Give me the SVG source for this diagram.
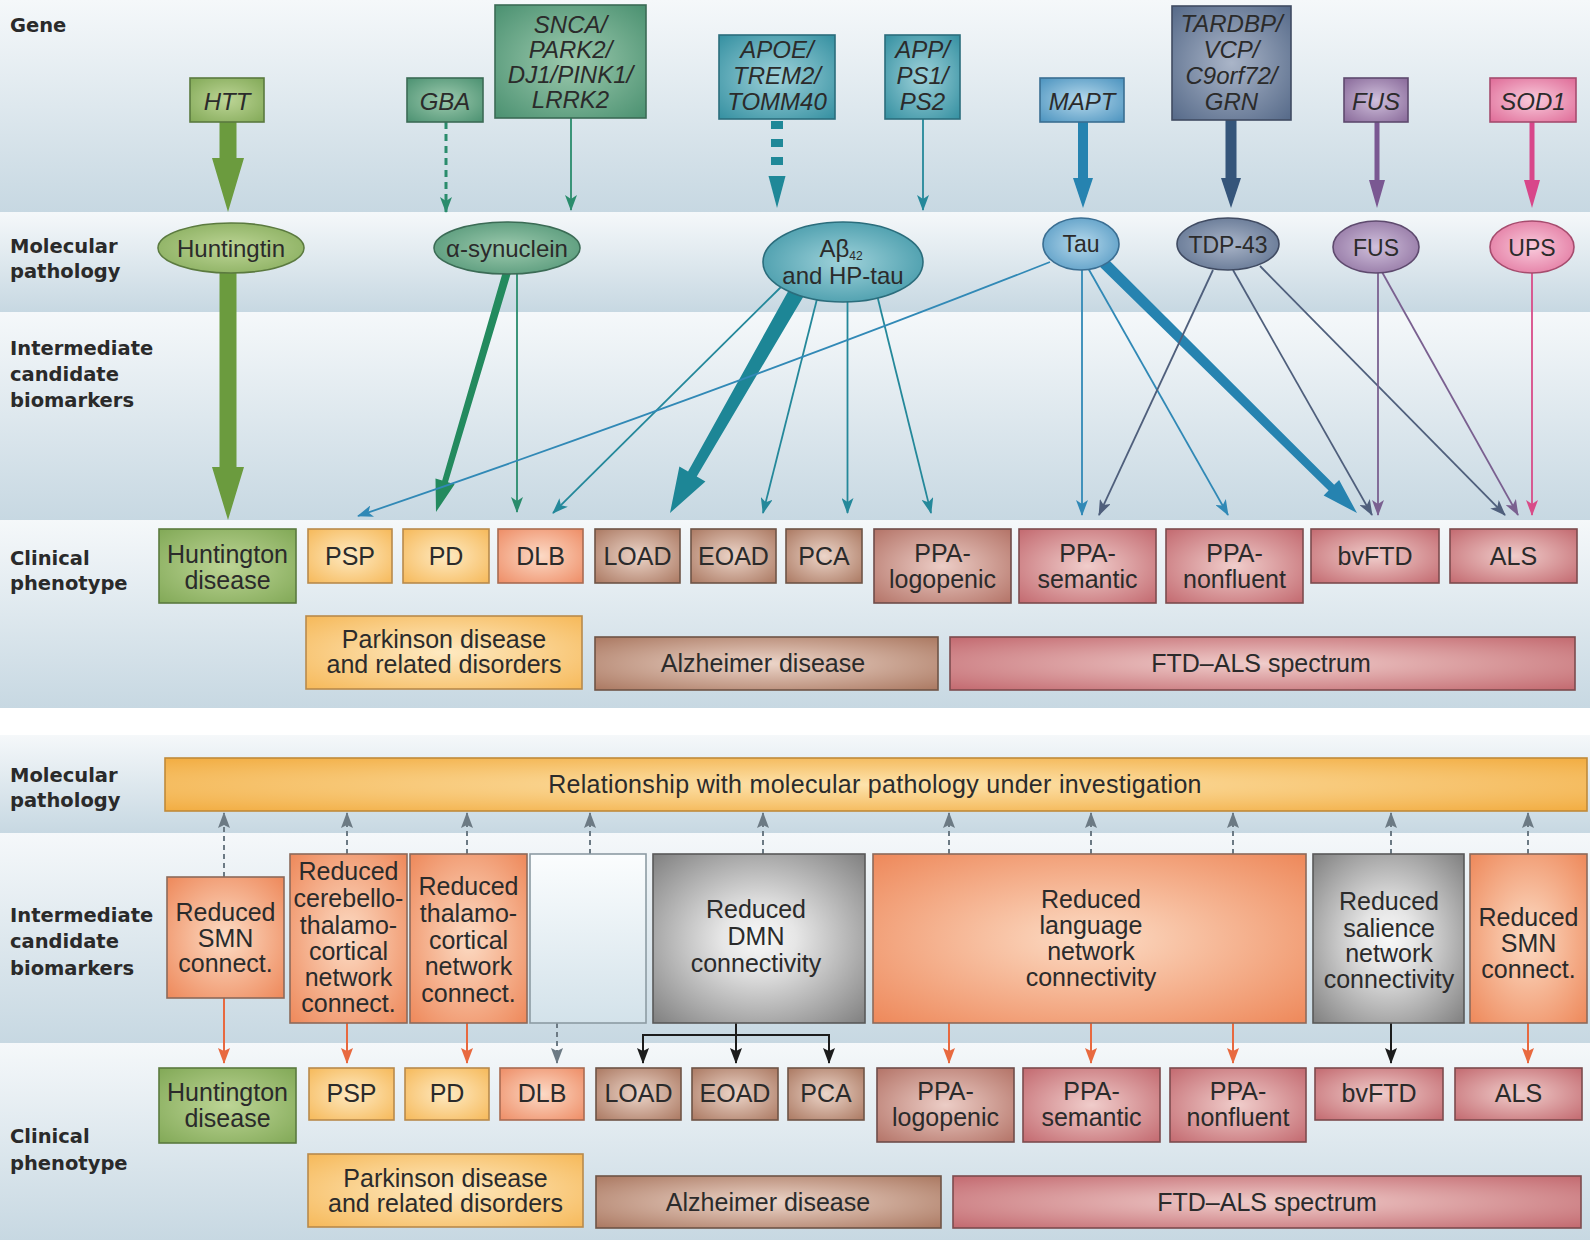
<svg xmlns="http://www.w3.org/2000/svg" width="1590" height="1240" viewBox="0 0 1590 1240">
<defs>
<linearGradient id="band" x1="0" y1="0" x2="0" y2="1"><stop offset="0" stop-color="#f5f8fa"/><stop offset="1" stop-color="#c7d8e2"/></linearGradient>
<linearGradient id="gEmpty" x1="0" y1="0" x2="0" y2="1"><stop offset="0" stop-color="#fbfdfe"/><stop offset="1" stop-color="#d3e2ea"/></linearGradient>
<radialGradient id="gGreen" r="0.7"><stop offset="0" stop-color="#bdd596"/><stop offset="1" stop-color="#82a957"/></radialGradient>
<radialGradient id="gSea" r="0.7"><stop offset="0" stop-color="#9dcaae"/><stop offset="1" stop-color="#4b9171"/></radialGradient>
<radialGradient id="gTeal" r="0.7"><stop offset="0" stop-color="#9fd2da"/><stop offset="1" stop-color="#3590a1"/></radialGradient>
<radialGradient id="gBlue" r="0.7"><stop offset="0" stop-color="#b6d9ec"/><stop offset="1" stop-color="#4b93bf"/></radialGradient>
<radialGradient id="gSlate" r="0.7"><stop offset="0" stop-color="#aab5c8"/><stop offset="1" stop-color="#566a89"/></radialGradient>
<radialGradient id="gPurple" r="0.7"><stop offset="0" stop-color="#d0c0dc"/><stop offset="1" stop-color="#886999"/></radialGradient>
<radialGradient id="gPink" r="0.7"><stop offset="0" stop-color="#f9cbdc"/><stop offset="1" stop-color="#df6b97"/></radialGradient>
<radialGradient id="gYellow" r="0.7"><stop offset="0" stop-color="#feeac2"/><stop offset="1" stop-color="#f6b95a"/></radialGradient>
<radialGradient id="gSalmon" r="0.7"><stop offset="0" stop-color="#fcdac6"/><stop offset="1" stop-color="#ee8d66"/></radialGradient>
<radialGradient id="gBrown" r="0.7"><stop offset="0" stop-color="#ecd5c9"/><stop offset="1" stop-color="#ab7962"/></radialGradient>
<radialGradient id="gMauve" r="0.7"><stop offset="0" stop-color="#eccdc6"/><stop offset="1" stop-color="#b47468"/></radialGradient>
<radialGradient id="gRose" r="0.7"><stop offset="0" stop-color="#f0cdcb"/><stop offset="1" stop-color="#c36a70"/></radialGradient>
<radialGradient id="gOrange" r="0.7"><stop offset="0" stop-color="#fcdcc5"/><stop offset="1" stop-color="#ee895b"/></radialGradient>
<radialGradient id="gGray" r="0.7"><stop offset="0" stop-color="#f8f8f8"/><stop offset="0.25" stop-color="#e6e6e6"/><stop offset="1" stop-color="#818181"/></radialGradient>
<radialGradient id="gBar" r="0.7"><stop offset="0" stop-color="#fde3ad"/><stop offset="1" stop-color="#f2ad42"/></radialGradient>
<marker id="aG" viewBox="0 0 16 12" refX="15" refY="6" markerWidth="16" markerHeight="12" markerUnits="userSpaceOnUse" orient="auto"><path d="M0,0 L16,6 L0,12 L4,6 Z" fill="#2a8c6c"/></marker>
<marker id="aT" viewBox="0 0 16 12" refX="15" refY="6" markerWidth="16" markerHeight="12" markerUnits="userSpaceOnUse" orient="auto"><path d="M0,0 L16,6 L0,12 L4,6 Z" fill="#24889a"/></marker>
<marker id="aB" viewBox="0 0 16 12" refX="15" refY="6" markerWidth="16" markerHeight="12" markerUnits="userSpaceOnUse" orient="auto"><path d="M0,0 L16,6 L0,12 L4,6 Z" fill="#3189b6"/></marker>
<marker id="aS" viewBox="0 0 16 12" refX="15" refY="6" markerWidth="16" markerHeight="12" markerUnits="userSpaceOnUse" orient="auto"><path d="M0,0 L16,6 L0,12 L4,6 Z" fill="#4f5f7c"/></marker>
<marker id="aP" viewBox="0 0 16 12" refX="15" refY="6" markerWidth="16" markerHeight="12" markerUnits="userSpaceOnUse" orient="auto"><path d="M0,0 L16,6 L0,12 L4,6 Z" fill="#7a6090"/></marker>
<marker id="aK" viewBox="0 0 16 12" refX="15" refY="6" markerWidth="16" markerHeight="12" markerUnits="userSpaceOnUse" orient="auto"><path d="M0,0 L16,6 L0,12 L4,6 Z" fill="#d84c88"/></marker>
<marker id="aGr" viewBox="0 0 16 12" refX="15" refY="6" markerWidth="16" markerHeight="12" markerUnits="userSpaceOnUse" orient="auto"><path d="M0,0 L16,6 L0,12 L3,6 Z" fill="#6c7a84"/></marker>
<marker id="aO" viewBox="0 0 16 12" refX="15" refY="6" markerWidth="16" markerHeight="12" markerUnits="userSpaceOnUse" orient="auto"><path d="M0,0 L16,6 L0,12 L3,6 Z" fill="#e8693f"/></marker>
<marker id="aBk" viewBox="0 0 16 12" refX="15" refY="6" markerWidth="16" markerHeight="12" markerUnits="userSpaceOnUse" orient="auto"><path d="M0,0 L16,6 L0,12 L3,6 Z" fill="#1c1c1c"/></marker>
</defs>
<style>
.lbl{font-family:"DejaVu Sans",sans-serif;font-weight:bold;font-size:19.5px;fill:#2a2a2a}
.t{font-family:"Liberation Sans",Arial,sans-serif;font-size:25px;fill:#2b2b2b;text-anchor:middle}
.te{font-family:"Liberation Sans",Arial,sans-serif;font-size:23px;fill:#2b2b2b;text-anchor:middle}
.tm{font-family:"Liberation Sans",Arial,sans-serif;font-size:24px;fill:#2b2b2b;text-anchor:middle}
.ti{font-family:"Liberation Sans",Arial,sans-serif;font-style:italic;font-size:24px;fill:#2b2b2b;text-anchor:middle}
.bx{stroke-width:1.6}
.thin{fill:none;stroke-width:1.8}
.dash{fill:none;stroke:#6c7a84;stroke-width:2;stroke-dasharray:5 4}
.or{fill:none;stroke:#e8693f;stroke-width:2}
.bk{fill:none;stroke:#1c1c1c;stroke-width:2}
</style>

<g id="background">
<rect x="0" y="0" width="1590" height="212" fill="url(#band)"/>
<rect x="0" y="212" width="1590" height="100" fill="url(#band)"/>
<rect x="0" y="312" width="1590" height="208" fill="url(#band)"/>
<rect x="0" y="520" width="1590" height="188" fill="url(#band)"/>
<rect x="0" y="708" width="1590" height="27" fill="#ffffff"/>
<rect x="0" y="735" width="1590" height="98" fill="url(#band)"/>
<rect x="0" y="833" width="1590" height="210" fill="url(#band)"/>
<rect x="0" y="1043" width="1590" height="197" fill="url(#band)"/>
</g>

<g id="row-labels">
<text class="lbl" x="10" y="32">Gene</text>
<text class="lbl" x="10" y="253">Molecular</text>
<text class="lbl" x="10" y="278">pathology</text>
<text class="lbl" x="10" y="355">Intermediate</text>
<text class="lbl" x="10" y="381">candidate</text>
<text class="lbl" x="10" y="407">biomarkers</text>
<text class="lbl" x="10" y="565">Clinical</text>
<text class="lbl" x="10" y="590">phenotype</text>
<text class="lbl" x="10" y="782">Molecular</text>
<text class="lbl" x="10" y="807">pathology</text>
<text class="lbl" x="10" y="922">Intermediate</text>
<text class="lbl" x="10" y="948">candidate</text>
<text class="lbl" x="10" y="975">biomarkers</text>
<text class="lbl" x="10" y="1143">Clinical</text>
<text class="lbl" x="10" y="1170">phenotype</text>
</g>

<g id="connectors">
<polygon points="219.5,122 236.5,122 236.5,158 244,158 228,212 212,158 219.5,158" fill="#6b9b3e"/>
<line x1="446" y1="122" x2="446" y2="212" stroke="#2a8c6c" stroke-width="3" stroke-dasharray="7 5" marker-end="url(#aG)"/>
<line class="thin" x1="571" y1="118" x2="571" y2="210" stroke="#2a8c6c" marker-end="url(#aG)"/>
<g fill="#1f8898">
<rect x="771" y="121" width="12" height="8"/>
<rect x="771" y="139" width="12" height="8"/>
<rect x="771" y="157" width="12" height="8"/>
<polygon points="768.5,176 785.5,176 777,208"/>
</g>
<line class="thin" x1="923" y1="119" x2="923" y2="210" stroke="#24889a" marker-end="url(#aT)"/>
<polygon points="1078,122 1088,122 1088,178 1093,178 1083,208 1073,178 1078,178" fill="#2683b0"/>
<polygon points="1225.5,120 1236.5,120 1236.5,178 1241,178 1231,208 1221,178 1225.5,178" fill="#35557a"/>
<polygon points="1374.5,122 1379.5,122 1379.5,180 1385,180 1377,208 1369,180 1374.5,180" fill="#7a5892"/>
<polygon points="1529.5,122 1534.5,122 1534.5,180 1540,180 1532,208 1524,180 1529.5,180" fill="#d8478a"/>
<polygon points="219.5,272 236.5,272 236.5,467 244,467 228,520 212,467 219.5,467" fill="#6b9b3e"/>
<polygon points="510.84,273.13 447.96,482.17 454.67,484.16 436,512 435.49,478.48 442.20,480.47 503.16,270.87" fill="#238a5e"/>
<line class="thin" x1="517" y1="274" x2="517" y2="512" stroke="#2a8c6c" marker-end="url(#aG)"/>
<line class="thin" x1="783" y1="285" x2="553" y2="513" stroke="#24889a" marker-end="url(#aT)"/>
<polygon points="804.94,293.98 696.74,476.46 705.41,481.44 670,513 679.39,466.50 688.06,471.48 791.06,286.02" fill="#1d8696"/>
<line class="thin" x1="818" y1="295" x2="763" y2="513" stroke="#24889a" marker-end="url(#aT)"/>
<line class="thin" x1="847.5" y1="298" x2="847.5" y2="513" stroke="#24889a" marker-end="url(#aT)"/>
<line class="thin" x1="877" y1="295" x2="931" y2="513" stroke="#24889a" marker-end="url(#aT)"/>
<path class="thin" d="M1050,262 Q720,392 358,516" stroke="#3189b6" marker-end="url(#aB)"/>
<line class="thin" x1="1082" y1="270" x2="1082" y2="515" stroke="#3189b6" marker-end="url(#aB)"/>
<line class="thin" x1="1088" y1="268" x2="1228" y2="515" stroke="#3189b6" marker-end="url(#aB)"/>
<polygon points="1107.87,259.09 1334.20,484.85 1339.12,479.88 1357,513 1323.66,495.52 1328.58,490.55 1100.13,266.91" fill="#2683b0"/>
<line class="thin" x1="1213" y1="270" x2="1099" y2="515" stroke="#4f5f7c" marker-end="url(#aS)"/>
<line class="thin" x1="1233" y1="270" x2="1372" y2="515" stroke="#4f5f7c" marker-end="url(#aS)"/>
<line class="thin" x1="1260" y1="266" x2="1505" y2="515" stroke="#4f5f7c" marker-end="url(#aS)"/>
<line class="thin" x1="1378" y1="273" x2="1378" y2="515" stroke="#7a6090" marker-end="url(#aP)"/>
<line class="thin" x1="1382" y1="272" x2="1518" y2="515" stroke="#7a6090" marker-end="url(#aP)"/>
<line class="thin" x1="1532" y1="273" x2="1532" y2="515" stroke="#d84c88" marker-end="url(#aK)"/>
<line class="dash" x1="224" y1="877" x2="224" y2="813" marker-end="url(#aGr)"/>
<line class="dash" x1="347" y1="854" x2="347" y2="813" marker-end="url(#aGr)"/>
<line class="dash" x1="467" y1="854" x2="467" y2="813" marker-end="url(#aGr)"/>
<line class="dash" x1="590" y1="854" x2="590" y2="813" marker-end="url(#aGr)"/>
<line class="dash" x1="763" y1="854" x2="763" y2="813" marker-end="url(#aGr)"/>
<line class="dash" x1="949" y1="854" x2="949" y2="813" marker-end="url(#aGr)"/>
<line class="dash" x1="1091" y1="854" x2="1091" y2="813" marker-end="url(#aGr)"/>
<line class="dash" x1="1233" y1="854" x2="1233" y2="813" marker-end="url(#aGr)"/>
<line class="dash" x1="1391" y1="854" x2="1391" y2="813" marker-end="url(#aGr)"/>
<line class="dash" x1="1528" y1="854" x2="1528" y2="813" marker-end="url(#aGr)"/>
<line class="or" x1="224" y1="998" x2="224" y2="1063" marker-end="url(#aO)"/>
<line class="or" x1="347" y1="1023" x2="347" y2="1063" marker-end="url(#aO)"/>
<line class="or" x1="467" y1="1023" x2="467" y2="1063" marker-end="url(#aO)"/>
<line class="dash" x1="557" y1="1023" x2="557" y2="1063" marker-end="url(#aGr)"/>
<path class="bk" d="M736,1023 V1035 M643,1035 H829"/>
<line class="bk" x1="643" y1="1034" x2="643" y2="1063" marker-end="url(#aBk)"/>
<line class="bk" x1="736" y1="1034" x2="736" y2="1063" marker-end="url(#aBk)"/>
<line class="bk" x1="829" y1="1034" x2="829" y2="1063" marker-end="url(#aBk)"/>
<line class="or" x1="949" y1="1023" x2="949" y2="1063" marker-end="url(#aO)"/>
<line class="or" x1="1091" y1="1023" x2="1091" y2="1063" marker-end="url(#aO)"/>
<line class="or" x1="1233" y1="1023" x2="1233" y2="1063" marker-end="url(#aO)"/>
<line class="bk" x1="1391" y1="1023" x2="1391" y2="1063" marker-end="url(#aBk)"/>
<line class="or" x1="1528" y1="1023" x2="1528" y2="1063" marker-end="url(#aO)"/>
</g>

<g id="gene-HTT"><rect class="bx" x="190" y="78" width="74" height="44" fill="url(#gGreen)" stroke="#5b7a3f"/><text class="ti" x="227" y="110">HTT</text></g>
<g id="gene-GBA"><rect class="bx" x="407" y="78" width="76" height="44" fill="url(#gSea)" stroke="#3b6b55"/><text class="ti" x="445" y="110">GBA</text></g>
<g id="gene-SNCA"><rect class="bx" x="495" y="5" width="151" height="113" fill="url(#gSea)" stroke="#3b6b55"/><text class="ti" x="570.5" y="33">SNCA/</text><text class="ti" x="570.5" y="58">PARK2/</text><text class="ti" x="570.5" y="83">DJ1/PINK1/</text><text class="ti" x="570.5" y="108">LRRK2</text></g>
<g id="gene-APOE"><rect class="bx" x="719" y="35" width="116" height="84" fill="url(#gTeal)" stroke="#2b6d7c"/><text class="ti" x="777" y="58">APOE/</text><text class="ti" x="777" y="84">TREM2/</text><text class="ti" x="777" y="110">TOMM40</text></g>
<g id="gene-APP"><rect class="bx" x="885" y="35" width="75" height="84" fill="url(#gTeal)" stroke="#2b6d7c"/><text class="ti" x="922.5" y="58">APP/</text><text class="ti" x="922.5" y="84">PS1/</text><text class="ti" x="922.5" y="110">PS2</text></g>
<g id="gene-MAPT"><rect class="bx" x="1040" y="78" width="84" height="44" fill="url(#gBlue)" stroke="#3a6e92"/><text class="ti" x="1082" y="110">MAPT</text></g>
<g id="gene-TARDBP"><rect class="bx" x="1172" y="6" width="119" height="114" fill="url(#gSlate)" stroke="#404b62"/><text class="ti" x="1231.5" y="32">TARDBP/</text><text class="ti" x="1231.5" y="58">VCP/</text><text class="ti" x="1231.5" y="84">C9orf72/</text><text class="ti" x="1231.5" y="110">GRN</text></g>
<g id="gene-FUS"><rect class="bx" x="1344" y="78" width="64" height="44" fill="url(#gPurple)" stroke="#5e4a6e"/><text class="ti" x="1376" y="110">FUS</text></g>
<g id="gene-SOD1"><rect class="bx" x="1490" y="78" width="86" height="44" fill="url(#gPink)" stroke="#a64c6e"/><text class="ti" x="1533" y="110">SOD1</text></g>

<g id="mol-huntingtin"><ellipse class="bx" cx="231" cy="248" rx="73" ry="25" fill="url(#gGreen)" stroke="#5b7a3f"/><text class="tm" x="231" y="257">Huntingtin</text></g>
<g id="mol-asyn"><ellipse class="bx" cx="507" cy="248" rx="73" ry="26" fill="url(#gSea)" stroke="#3b6b55"/><text class="tm" x="507" y="257">α-synuclein</text></g>
<g id="mol-abeta"><ellipse class="bx" cx="843" cy="262" rx="80" ry="40" fill="url(#gTeal)" stroke="#2b6d7c"/><text class="tm" x="841" y="257">Aβ<tspan font-size="12" dy="3">42</tspan></text><text class="tm" x="843" y="284">and HP-tau</text></g>
<g id="mol-tau"><ellipse class="bx" cx="1081" cy="244" rx="38" ry="26" fill="url(#gBlue)" stroke="#3a6e92"/><text class="te" x="1081" y="252">Tau</text></g>
<g id="mol-tdp43"><ellipse class="bx" cx="1228" cy="244" rx="51" ry="26" fill="url(#gSlate)" stroke="#404b62"/><text class="te" x="1228" y="253">TDP-43</text></g>
<g id="mol-fus"><ellipse class="bx" cx="1376" cy="247" rx="43" ry="26" fill="url(#gPurple)" stroke="#5e4a6e"/><text class="te" x="1376" y="256">FUS</text></g>
<g id="mol-ups"><ellipse class="bx" cx="1532" cy="247" rx="42" ry="26" fill="url(#gPink)" stroke="#a64c6e"/><text class="te" x="1532" y="256">UPS</text></g>

<g id="top-HD"><rect class="bx" x="159" y="529" width="137" height="74" fill="url(#gGreen)" stroke="#5b7a3f"/><text class="t" x="227.5" y="563">Huntington</text><text class="t" x="227.5" y="589">disease</text></g>
<g id="top-PSP"><rect class="bx" x="308" y="529" width="84" height="54" fill="url(#gYellow)" stroke="#b88a4c"/><text class="t" x="350" y="565">PSP</text></g>
<g id="top-PD"><rect class="bx" x="403" y="529" width="86" height="54" fill="url(#gYellow)" stroke="#b88a4c"/><text class="t" x="446" y="565">PD</text></g>
<g id="top-DLB"><rect class="bx" x="498" y="529" width="85" height="54" fill="url(#gSalmon)" stroke="#a96b52"/><text class="t" x="540.5" y="565">DLB</text></g>
<g id="top-LOAD"><rect class="bx" x="595" y="529" width="85" height="54" fill="url(#gBrown)" stroke="#6e5446"/><text class="t" x="637.5" y="565">LOAD</text></g>
<g id="top-EOAD"><rect class="bx" x="691" y="529" width="85" height="54" fill="url(#gBrown)" stroke="#6e5446"/><text class="t" x="733.5" y="565">EOAD</text></g>
<g id="top-PCA"><rect class="bx" x="786" y="529" width="76" height="54" fill="url(#gBrown)" stroke="#6e5446"/><text class="t" x="824" y="565">PCA</text></g>
<g id="top-PPAlog"><rect class="bx" x="874" y="529" width="137" height="74" fill="url(#gMauve)" stroke="#6f4d4a"/><text class="t" x="942.5" y="562">PPA-</text><text class="t" x="942.5" y="588">logopenic</text></g>
<g id="top-PPAsem"><rect class="bx" x="1019" y="529" width="137" height="74" fill="url(#gRose)" stroke="#7c4b4e"/><text class="t" x="1087.5" y="562">PPA-</text><text class="t" x="1087.5" y="588">semantic</text></g>
<g id="top-PPAnf"><rect class="bx" x="1166" y="529" width="137" height="74" fill="url(#gRose)" stroke="#7c4b4e"/><text class="t" x="1234.5" y="562">PPA-</text><text class="t" x="1234.5" y="588">nonfluent</text></g>
<g id="top-bvFTD"><rect class="bx" x="1311" y="529" width="128" height="54" fill="url(#gRose)" stroke="#7c4b4e"/><text class="t" x="1375" y="565">bvFTD</text></g>
<g id="top-ALS"><rect class="bx" x="1450" y="529" width="127" height="54" fill="url(#gRose)" stroke="#7c4b4e"/><text class="t" x="1513.5" y="565">ALS</text></g>
<g id="top-Parkinson"><rect class="bx" x="306" y="616" width="276" height="73" fill="url(#gYellow)" stroke="#b88a4c"/><text class="t" x="444" y="648">Parkinson disease</text><text class="t" x="444" y="673">and related disorders</text></g>
<g id="top-Alzheimer"><rect class="bx" x="595" y="637" width="343" height="53" fill="url(#gBrown)" stroke="#6e5446"/><text class="t" x="763" y="672">Alzheimer disease</text></g>
<g id="top-FTDALS"><rect class="bx" x="950" y="637" width="625" height="53" fill="url(#gRose)" stroke="#7c4b4e"/><text class="t" x="1261" y="672">FTD–ALS spectrum</text></g>

<g id="bot-relationship"><rect class="bx" x="165" y="758" width="1422" height="53" fill="url(#gBar)" stroke="#c08a3a"/><text class="t" x="875" y="793" letter-spacing="0.3">Relationship with molecular pathology under investigation</text></g>

<g id="bot-SMN1"><rect class="bx" x="167" y="877" width="117" height="121" fill="url(#gOrange)" stroke="#8c6a5a"/><text class="t" x="225.5" y="921">Reduced</text><text class="t" x="225.5" y="947">SMN</text><text class="t" x="225.5" y="972">connect.</text></g>
<g id="bot-cerebello"><rect class="bx" x="290" y="854" width="117" height="169" fill="url(#gOrange)" stroke="#8c6a5a"/><text class="t" x="348.5" y="880">Reduced</text><text class="t" x="348.5" y="907">cerebello-</text><text class="t" x="348.5" y="934">thalamo-</text><text class="t" x="348.5" y="960">cortical</text><text class="t" x="348.5" y="986">network</text><text class="t" x="348.5" y="1012">connect.</text></g>
<g id="bot-thalamo"><rect class="bx" x="410" y="854" width="117" height="169" fill="url(#gOrange)" stroke="#8c6a5a"/><text class="t" x="468.5" y="895">Reduced</text><text class="t" x="468.5" y="922">thalamo-</text><text class="t" x="468.5" y="949">cortical</text><text class="t" x="468.5" y="975">network</text><text class="t" x="468.5" y="1002">connect.</text></g>
<g id="bot-empty"><rect class="bx" x="530" y="854" width="116" height="169" fill="url(#gEmpty)" stroke="#8d9ba3"/></g>
<g id="bot-DMN"><rect class="bx" x="653" y="854" width="212" height="169" fill="url(#gGray)" stroke="#595959"/><text class="t" x="756" y="918">Reduced</text><text class="t" x="756" y="945">DMN</text><text class="t" x="756" y="972">connectivity</text></g>
<g id="bot-language"><rect class="bx" x="873" y="854" width="433" height="169" fill="url(#gOrange)" stroke="#8c6a5a"/><text class="t" x="1091" y="908">Reduced</text><text class="t" x="1091" y="934">language</text><text class="t" x="1091" y="960">network</text><text class="t" x="1091" y="986">connectivity</text></g>
<g id="bot-salience"><rect class="bx" x="1313" y="854" width="151" height="169" fill="url(#gGray)" stroke="#595959"/><text class="t" x="1389" y="910">Reduced</text><text class="t" x="1389" y="937">salience</text><text class="t" x="1389" y="962">network</text><text class="t" x="1389" y="988">connectivity</text></g>
<g id="bot-SMN2"><rect class="bx" x="1470" y="854" width="117" height="169" fill="url(#gOrange)" stroke="#8c6a5a"/><text class="t" x="1528.5" y="926">Reduced</text><text class="t" x="1528.5" y="952">SMN</text><text class="t" x="1528.5" y="978">connect.</text></g>

<g id="bot-HD"><rect class="bx" x="159" y="1068" width="137" height="75" fill="url(#gGreen)" stroke="#5b7a3f"/><text class="t" x="227.5" y="1101">Huntington</text><text class="t" x="227.5" y="1127">disease</text></g>
<g id="bot-PSP"><rect class="bx" x="309" y="1068" width="85" height="52" fill="url(#gYellow)" stroke="#b88a4c"/><text class="t" x="351.5" y="1102">PSP</text></g>
<g id="bot-PD"><rect class="bx" x="405" y="1068" width="84" height="52" fill="url(#gYellow)" stroke="#b88a4c"/><text class="t" x="447" y="1102">PD</text></g>
<g id="bot-DLB"><rect class="bx" x="500" y="1068" width="84" height="52" fill="url(#gSalmon)" stroke="#a96b52"/><text class="t" x="542" y="1102">DLB</text></g>
<g id="bot-LOAD"><rect class="bx" x="596" y="1068" width="85" height="52" fill="url(#gBrown)" stroke="#6e5446"/><text class="t" x="638.5" y="1102">LOAD</text></g>
<g id="bot-EOAD"><rect class="bx" x="692" y="1068" width="86" height="52" fill="url(#gBrown)" stroke="#6e5446"/><text class="t" x="735" y="1102">EOAD</text></g>
<g id="bot-PCA"><rect class="bx" x="788" y="1068" width="76" height="52" fill="url(#gBrown)" stroke="#6e5446"/><text class="t" x="826" y="1102">PCA</text></g>
<g id="bot-PPAlog"><rect class="bx" x="877" y="1068" width="137" height="74" fill="url(#gMauve)" stroke="#6f4d4a"/><text class="t" x="945.5" y="1100">PPA-</text><text class="t" x="945.5" y="1126">logopenic</text></g>
<g id="bot-PPAsem"><rect class="bx" x="1023" y="1068" width="137" height="74" fill="url(#gRose)" stroke="#7c4b4e"/><text class="t" x="1091.5" y="1100">PPA-</text><text class="t" x="1091.5" y="1126">semantic</text></g>
<g id="bot-PPAnf"><rect class="bx" x="1170" y="1068" width="136" height="74" fill="url(#gRose)" stroke="#7c4b4e"/><text class="t" x="1238" y="1100">PPA-</text><text class="t" x="1238" y="1126">nonfluent</text></g>
<g id="bot-bvFTD"><rect class="bx" x="1315" y="1068" width="128" height="52" fill="url(#gRose)" stroke="#7c4b4e"/><text class="t" x="1379" y="1102">bvFTD</text></g>
<g id="bot-ALS"><rect class="bx" x="1455" y="1068" width="127" height="52" fill="url(#gRose)" stroke="#7c4b4e"/><text class="t" x="1518.5" y="1102">ALS</text></g>
<g id="bot-Parkinson"><rect class="bx" x="308" y="1154" width="275" height="73" fill="url(#gYellow)" stroke="#b88a4c"/><text class="t" x="445.5" y="1187">Parkinson disease</text><text class="t" x="445.5" y="1212">and related disorders</text></g>
<g id="bot-Alzheimer"><rect class="bx" x="596" y="1176" width="345" height="52" fill="url(#gBrown)" stroke="#6e5446"/><text class="t" x="768" y="1211">Alzheimer disease</text></g>
<g id="bot-FTDALS"><rect class="bx" x="953" y="1176" width="628" height="52" fill="url(#gRose)" stroke="#7c4b4e"/><text class="t" x="1267" y="1211">FTD–ALS spectrum</text></g>
</svg>
